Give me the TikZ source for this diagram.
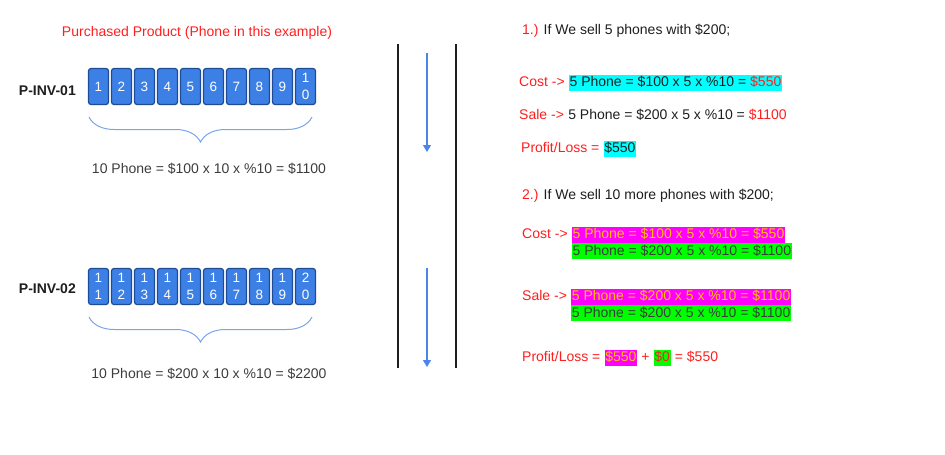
\documentclass[tikz,border=0pt]{standalone}
\usepackage{fontspec}
\setmainfont{Liberation Sans}
\usetikzlibrary{arrows.meta,positioning,decorations.pathreplacing}
\definecolor{ink}{RGB}{30,30,30}
\definecolor{txtG}{RGB}{60,60,60}
\definecolor{warn}{RGB}{255,30,30}
\definecolor{cellF}{RGB}{60,128,230}
\definecolor{cellD}{RGB}{30,75,150}
\definecolor{brc}{RGB}{120,165,235}
\definecolor{flow}{RGB}{74,134,232}
\definecolor{hlC}{RGB}{0,255,255}
\definecolor{hlM}{RGB}{255,0,255}
\definecolor{hlG}{RGB}{0,255,0}
\definecolor{gold}{RGB}{255,192,0}
\tikzset{
  txt/.style={inner sep=0pt,font=\fontsize{14}{17}\selectfont,text height=10.5pt,text depth=3pt,text=ink},
  lbl/.style={txt,text=warn},
  hl/.style={txt,inner xsep=0.6pt,inner ysep=1.25pt,fill=#1},
  cell/.style={draw=cellD,fill=cellF,line width=1.2pt,rounded corners=2.5pt,minimum width=20pt,
    minimum height=36pt,inner sep=0pt,align=center,font=\fontsize{13.5}{17}\selectfont,text=white},
  brace/.style={draw=brc,line width=1pt,decorate,decoration={brace,mirror,amplitude=25pt}},
  down/.style={draw=flow,line width=1.1pt,-{Triangle[width=8pt,length=7pt]}},
  rail/.style={draw=ink,line width=2.5pt},
}

\begin{document}
\begin{tikzpicture}[x=1pt,y=-1pt]
\useasboundingbox (0,0) rectangle (945,455);
\node[lbl] (title) at (197,33) {Purchased Product (Phone in this example)};
\node[txt,font=\fontsize{14}{17}\selectfont\bfseries,anchor=east] (inv1) at (76,92) {P-INV-01};
\foreach \i/\t in {1/1,2/2,3/3,4/4,5/5,6/6,7/7,8/8,9/9,10/{1\\0}}
  \node[cell] (p\i) at ({98.5+23*(\i-1)},86.5) {\t};
\coordinate (b1l) at (89,117);
\coordinate (b1r) at (312,117);
\draw[brace] (b1l) -- (b1r);
\node[txt,text=txtG] (sum1) at (209,170) {10 Phone = \$100 x 10 x \%10 = \$1100};

\node[txt,font=\fontsize{14}{17}\selectfont\bfseries,anchor=east] (inv2) at (76,290) {P-INV-02};
\foreach \i/\t in {1/{1\\1},2/{1\\2},3/{1\\3},4/{1\\4},5/{1\\5},6/{1\\6},7/{1\\7},8/{1\\8},9/{1\\9},10/{2\\0}}
  \node[cell] (q\i) at ({98.5+23*(\i-1)},286.5) {\t};
\coordinate (b2l) at (89,317);
\coordinate (b2r) at (312,317);
\draw[brace] (b2l) -- (b2r);
\node[txt,text=txtG] (sum2) at (209,375) {10 Phone = \$200 x 10 x \%10 = \$2200};

\coordinate (r1t) at (398,44);
\coordinate (r1b) at (398,368);
\coordinate (r2t) at (456,44);
\coordinate (r2b) at (456,368);
\draw[rail] (r1t) -- (r1b);
\draw[rail] (r2t) -- (r2b);
\coordinate (d1s) at (427,53);
\coordinate (d1e) at (427,152);
\coordinate (d2s) at (427,268);
\coordinate (d2e) at (427,367);
\draw[down] (d1s) -- (d1e);
\draw[down] (d2s) -- (d2e);

\node[txt,anchor=west] (step1) at (522,31) {\textcolor{warn}{1.)} If We sell 5 phones with \$200;};
\node[lbl,anchor=west] (cost1) at (519,83) {Cost ->};
\node[hl=hlC,right=3.9pt of cost1] (cost1v) {5 Phone = \$100 x 5 x \%10 = \textcolor{warn}{\$550}};
\node[lbl,anchor=west] (sale1) at (519,116) {Sale ->};
\node[txt,right=3.9pt of sale1] (sale1v) {5 Phone = \$200 x 5 x \%10 = \textcolor{warn}{\$1100}};
\node[lbl,anchor=west] (pl1) at (521,149) {Profit/Loss =};
\node[hl=hlC,right=3.9pt of pl1] (pl1v) {\$550};

\node[txt,anchor=west] (step2) at (522,196) {\textcolor{warn}{2.)} If We sell 10 more phones with \$200;};
\node[lbl,anchor=west] (cost2) at (522,235) {Cost ->};
\node[hl=hlM,text=gold,right=3.9pt of cost2] (cost2a) {5 Phone = \$100 x 5 x \%10 = \$550};
\node[hl=hlG,text=txtG,anchor=north west] (cost2b) at (cost2a.south west) {5 Phone = \$200 x 5 x \%10 = \$1100};
\node[lbl,anchor=west] (sale2) at (522,297) {Sale ->};
\node[hl=hlM,text=gold,right=3.9pt of sale2] (sale2a) {5 Phone = \$200 x 5 x \%10 = \$1100};
\node[hl=hlG,text=txtG,anchor=north west] (sale2b) at (sale2a.south west) {5 Phone = \$200 x 5 x \%10 = \$1100};
\node[lbl,anchor=west] (pl2) at (522,358) {Profit/Loss =};
\node[hl=hlM,text=gold,right=3.9pt of pl2] (pl2a) {\$550};
\node[lbl,right=3.9pt of pl2a] (pl2p) {+};
\node[hl=hlG,text=warn,right=3.9pt of pl2p] (pl2b) {\$0};
\node[lbl,right=3.9pt of pl2b] (pl2r) {= \$550};
\end{tikzpicture}
\end{document}
